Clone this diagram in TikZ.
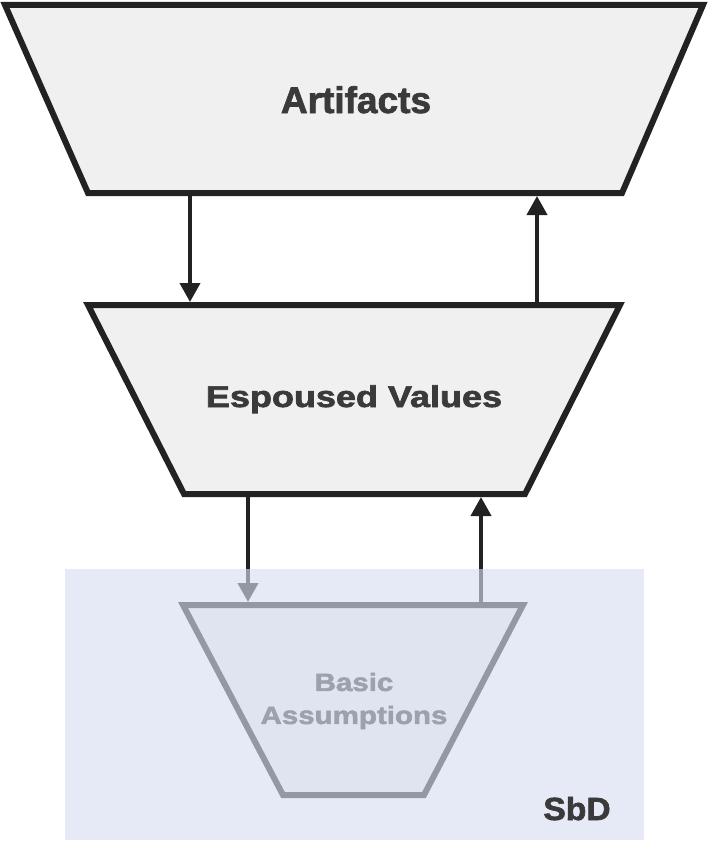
\documentclass[tikz,border=0pt]{standalone}
\usepackage{fontspec}
\setmainfont{Liberation Sans}[BoldFeatures={FakeBold=2}]
\usepackage{xcolor}
\usetikzlibrary{arrows.meta}

\definecolor{layerfill}{HTML}{F0F0F0}
\definecolor{layerline}{HTML}{222222}
\definecolor{labeltext}{HTML}{3A3A3A}
\definecolor{sbdblue}{RGB}{215,222,241}

\begin{document}
\begin{tikzpicture}[x=1pt, y=-1pt,
    layer/.style={draw=layerline, fill=layerfill, line width=6pt, line join=miter},
    flow/.style={draw=layerline, line width=4pt, -{Triangle[length=19pt,width=20pt]}},
    lbl/.style={text=labeltext, align=center, inner sep=0pt}]
  \useasboundingbox (0,0) rectangle (708,843);
  % Layers: name / top y / top left / top right / bottom y / bottom left / bottom right
  \foreach \name/\yt/\xtl/\xtr/\yb/\xbl/\xbr in {
    art/5/5/703/193/88/622,
    esp/305/88/620/494/184/525,
    bas/605/183/523/795/283/424} {
    \draw[layer] (\xtl,\yt) -- (\xtr,\yt) -- (\xbr,\yb) -- (\xbl,\yb) -- cycle;
  }
  % Labels
  \node[lbl, anchor=base, font=\fontsize{37}{40}\selectfont\bfseries] (artifacts) at (356,113) {Artifacts};
  \node[lbl, anchor=base, font=\fontsize{30}{36}\selectfont\bfseries] (espoused) at (354,407) {\scalebox{1.2}[1]{Espoused Values}};
  \node[lbl, font=\fontsize{25}{33}\selectfont\bfseries] (basic) at (354,701) {\scalebox{1.18}[1]{Basic}\\\scalebox{1.18}[1]{Assumptions}};
  % Arrow ends
  \coordinate (art-dn) at (190,196);
  \coordinate (esp-dn) at (190,302);
  \coordinate (esp-up) at (537,302);
  \coordinate (art-up) at (537,196);
  \coordinate (esp-dn2) at (248,497);
  \coordinate (bas-dn) at (248,602);
  \coordinate (bas-up) at (481,602);
  \coordinate (esp-up2) at (481,497);
  \draw[flow] (art-dn) -- (esp-dn);
  \draw[flow] (esp-up) -- (art-up);
  \draw[flow] (esp-dn2) -- (bas-dn);
  \draw[flow] (bas-up) -- (esp-up2);
  % SbD overlay
  \fill[sbdblue, fill opacity=0.633] (65,569) rectangle (644,840);
  \node[lbl, anchor=base, font=\fontsize{32}{36}\selectfont\bfseries] (sbd) at (577,820) {\scalebox{1.05}[1]{SbD}};
\end{tikzpicture}
\end{document}
